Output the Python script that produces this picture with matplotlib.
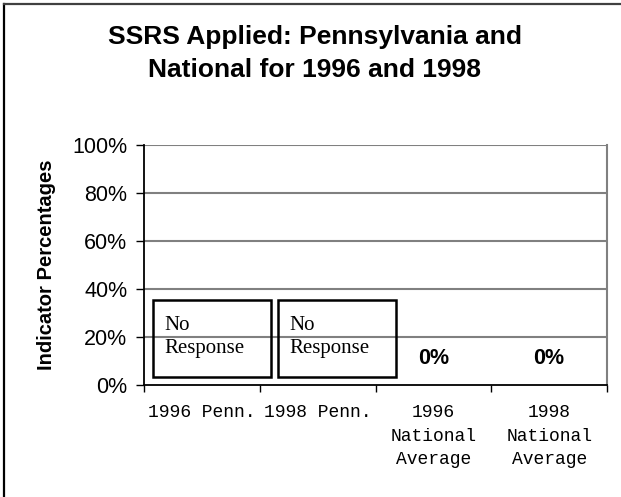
import matplotlib.pyplot as plt
from matplotlib.patches import Rectangle
import numpy as np

# chart data
categories = ["1996 Penn.", "1998 Penn.", "1996\nNational\nAverage", "1998\nNational\nAverage"]
values = [np.nan, np.nan, 0, 0]  # Penn. years had no response
value_labels = ["", "", "0%", "0%"]
y_ticks = [0, 20, 40, 60, 80, 100]
y_tick_labels = ["0%", "20%", "40%", "60%", "80%", "100%"]

W, H = 621, 497
fig = plt.figure(figsize=(W / 100, H / 100), dpi=100)

def fx(px):  # pixel x -> figure fraction
    return px / W

def fy(py):  # pixel y (from top) -> figure fraction
    return 1 - py / H

# outer chart border (left and top visible)
fig.add_artist(plt.Line2D([fx(4), fx(4)], [fy(4), 0], color="black", lw=1.6))
fig.add_artist(plt.Line2D([fx(4), 1], [fy(4), fy(4)], color="#404040", lw=1.6))

ax = fig.add_axes([fx(144), fy(385), fx(607) - fx(144), fy(145) - fy(385)])

x = np.arange(len(categories))
ax.bar(x, values, width=0.6, color="#9999ff")

ax.set_xlim(-0.5, len(categories) - 0.5)
ax.set_ylim(0, 100)

# gridlines
for v in y_ticks[1:]:
    ax.axhline(v, color="#808080", lw=1.5, zorder=0)

ax.spines["top"].set_visible(False)
ax.spines["right"].set_color("#808080")
ax.spines["right"].set_linewidth(1.5)
ax.spines["left"].set_linewidth(1.3)
ax.spines["bottom"].set_linewidth(1.3)

ax.set_yticks(y_ticks)
ax.set_yticklabels(y_tick_labels, fontsize=15.5, family="Liberation Sans")
ax.tick_params(axis="y", direction="out", length=6, width=1, pad=6)

ax.set_xticks(x)
ax.set_xticklabels(categories, fontsize=13, family="Liberation Mono", linespacing=1.5, va="top")
ax.tick_params(axis="x", which="major", length=0, pad=14)
ax.set_xticks(np.arange(-0.5, len(categories)), minor=True)
ax.tick_params(axis="x", which="minor", direction="out", length=5, width=1)

# value labels above the (zero-height) bars
for xi, lab in zip(x, value_labels):
    if lab:
        ax.text(xi, 11, lab, ha="center", va="center", fontsize=15.5,
                fontweight="bold", family="Liberation Sans")

# "No Response" boxes for the Penn. years
for left in [153, 278]:
    fig.add_artist(Rectangle((fx(left), fy(377)), fx(118), fy(300) - fy(377),
                             fill=False, edgecolor="black", lw=1.8))
    fig.text(fx(left + 11), fy(337), "No\nResponse", ha="left", va="center",
             fontsize=15, family="Liberation Serif", linespacing=1.3)

fig.text(fx(315), fy(37), "SSRS Applied: Pennsylvania and", ha="center", va="center",
         fontsize=19, fontweight="bold", family="Liberation Sans")
fig.text(fx(315), fy(70), "National for 1996 and 1998", ha="center", va="center",
         fontsize=19, fontweight="bold", family="Liberation Sans")
fig.text(fx(47), fy(265), "Indicator Percentages", ha="center", va="center", rotation=90,
         fontsize=14.5, fontweight="bold", family="Liberation Sans")

fig.savefig("out.png", dpi=100)
